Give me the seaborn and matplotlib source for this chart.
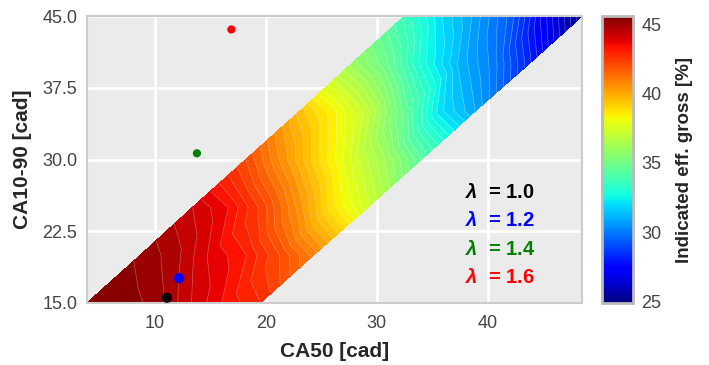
import numpy as np
import matplotlib
matplotlib.use("Agg")
import matplotlib.pyplot as plt
import matplotlib.cm as mcm
import matplotlib.colors as mcolors
import seaborn as sns
import pandas as pd

# ---- data ----
ca1090_rows = [15.0, 20.0, 25.0, 30.0, 35.0, 40.0, 45.0]
ca50_grid = [
    [3.9, 7.0, 10.1, 13.3, 16.4, 19.5],
    [8.7, 11.8, 14.9, 18.1, 21.2, 24.3],
    [13.4, 16.6, 19.7, 22.9, 26.0, 29.2],
    [18.2, 21.4, 24.5, 27.7, 30.8, 34.0],
    [23.0, 26.2, 29.3, 32.5, 35.6, 38.8],
    [27.7, 30.9, 34.1, 37.3, 40.5, 43.7],
    [32.5, 35.7, 38.9, 42.1, 45.3, 48.5],
]
eff_grid = [
    [45.6, 45.5, 45.1, 44.2, 43.4, 42.8],
    [45.2, 44.7, 43.8, 43.2, 42.1, 40.9],
    [44.2, 43.5, 42.3, 40.6, 38.7, 37.3],
    [42.1, 40.6, 39.1, 37.5, 36.1, 34.4],
    [39.5, 38.3, 36.9, 34.6, 32.1, 30.9],
    [36.0, 34.8, 32.8, 31.2, 30.0, 28.2],
    [33.6, 32.0, 30.7, 29.3, 27.0, 24.9],
]

lambda_labels = ["1.0", "1.2", "1.4", "1.6"]
lambda_colors = ["black", "blue", "green", "red"]
point_ca50 = [11.1, 12.2, 13.8, 16.9]
point_ca1090 = [15.55, 17.6, 30.65, 43.6]
point_sizes = [55, 55, 35, 35]

xticks = [10, 20, 30, 40]
yticks = [15.0, 22.5, 30.0, 37.5, 45.0]
cbar_ticks = [25, 30, 35, 40, 45]

# ---- style ----
sns.set_theme(style="darkgrid", rc={
    "axes.facecolor": "#EBEBEB",
    "grid.color": "white",
    "grid.linewidth": 2.0,
    "axes.edgecolor": "#CCCCCC",
    "axes.linewidth": 1.5,
})
plt.rcParams["font.family"] = ["Liberation Sans", "DejaVu Sans"]
plt.rcParams["mathtext.fontset"] = "custom"
plt.rcParams["mathtext.rm"] = "Liberation Sans"
plt.rcParams["mathtext.it"] = "Liberation Sans:italic"
plt.rcParams["mathtext.bf"] = "Liberation Sans:bold"
plt.rcParams["mathtext.bfit"] = "Liberation Sans:bold:italic"

fig = plt.figure(figsize=(7.09, 3.65), dpi=100)
ax = fig.add_axes([0.1227, 0.170, 0.6985, 0.786])
cax = fig.add_axes([0.8487, 0.170, 0.0445, 0.786])

X = np.array(ca50_grid)
Y = np.repeat(np.array(ca1090_rows)[:, None], X.shape[1], axis=1)
Z = np.array(eff_grid)

zmin, zmax = Z.min(), Z.max()
levels = np.linspace(zmin, zmax, 60)
norm = mcolors.Normalize(vmin=zmin, vmax=zmax)
cf = ax.contourf(X, Y, Z, levels=levels, cmap="jet", norm=norm, zorder=2)
ax.contour(X, Y, Z, levels=levels, colors="white", linewidths=0.5,
           alpha=0.35, zorder=3)

pts = pd.DataFrame({"ca50": point_ca50, "ca1090": point_ca1090,
                    "lam": lambda_labels, "size": point_sizes})
for i, row in pts.iterrows():
    sns.scatterplot(x=[row["ca50"]], y=[row["ca1090"]], ax=ax,
                    color=lambda_colors[i], s=row["size"],
                    edgecolor="none", zorder=5, legend=False)

text_y = [26.5, 23.6, 20.6, 17.7]
for lab, col, ty in zip(lambda_labels, lambda_colors, text_y):
    ax.text(37.9, ty, r"$\mathbfit{\lambda}$  = " + lab, color=col,
            fontsize=14.5, fontweight="bold", ha="left", va="center",
            zorder=6)

ax.set_xlim(3.9, 48.5)
ax.set_ylim(15, 45)
ax.set_xticks(xticks)
ax.set_yticks(yticks)
ax.set_yticklabels([f"{v:.1f}" for v in yticks])
ax.tick_params(axis="both", length=0, labelsize=13, labelcolor="#444444")
ax.tick_params(axis="x", pad=9)
ax.tick_params(axis="y", pad=7)
ax.set_xlabel("CA50 [cad]", fontsize=15, fontweight="bold", labelpad=7)
ax.set_ylabel("CA10-90 [cad]", fontsize=15, fontweight="bold", labelpad=7)
ax.grid(True, zorder=0)
ax.set_axisbelow(True)
for s in ax.spines.values():
    s.set_visible(True)
    s.set_color("#CCCCCC")
    s.set_linewidth(1.5)

sm = mcm.ScalarMappable(norm=norm, cmap="jet")
cb = fig.colorbar(sm, cax=cax, ticks=cbar_ticks)
cb.outline.set_edgecolor("#BBBBBB")
cb.outline.set_linewidth(2)
cax.tick_params(length=0, labelsize=13, labelcolor="#444444", pad=6)
cb.set_label("Indicated eff. gross [%]", fontsize=13.5, fontweight="bold",
             labelpad=10)

fig.savefig("out.png", dpi=100)
